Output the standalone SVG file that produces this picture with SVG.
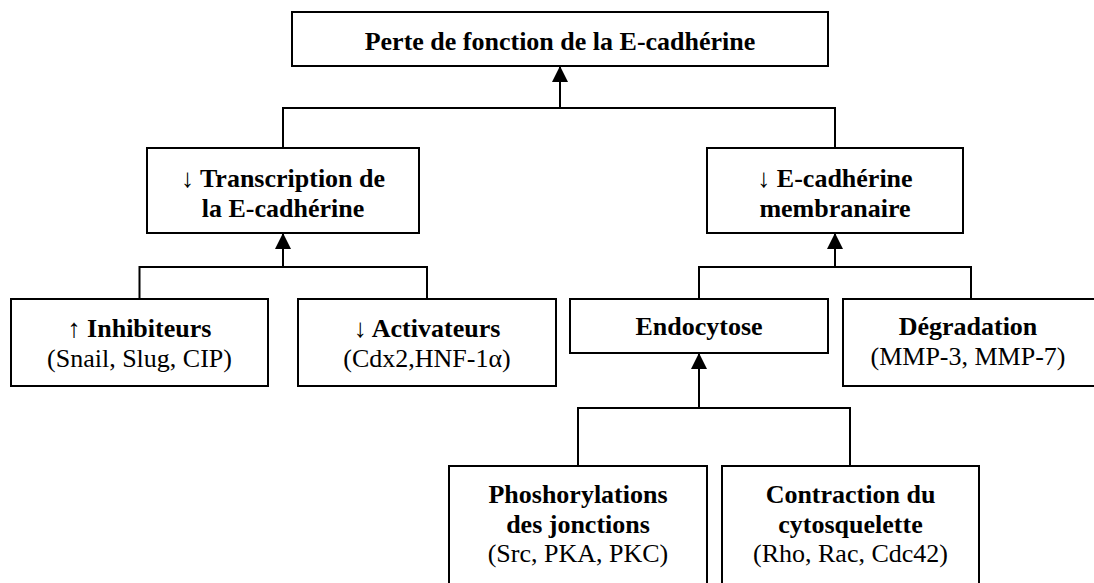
<svg xmlns="http://www.w3.org/2000/svg" width="1094" height="583" viewBox="0 0 1094 583">
<style>
.box{fill:#fff;stroke:#000;stroke-width:2}
.ln{fill:none;stroke:#000;stroke-width:2}
text{font-family:"Liberation Serif","Times New Roman",serif;font-size:26px;fill:#000;text-anchor:middle}
.b{font-weight:bold}
.n{font-weight:normal}
</style>
<defs>
<marker id="arr" viewBox="0 0 16 16" markerWidth="16" markerHeight="16" refX="16" refY="8" orient="auto" markerUnits="userSpaceOnUse">
<path d="M0,0 L16,8 L0,16 z" fill="#000"/>
</marker>
</defs>
<g id="connectors">
<line class="ln" x1="560" y1="108" x2="560" y2="66" marker-end="url(#arr)"/>
<polyline class="ln" points="283,148 283,108 835,108 835,148"/>
<line class="ln" x1="283" y1="267" x2="283" y2="233" marker-end="url(#arr)"/>
<polyline class="ln" points="139.5,299 139.5,267 427,267 427,299"/>
<line class="ln" x1="835" y1="267" x2="835" y2="233" marker-end="url(#arr)"/>
<polyline class="ln" points="699,299 699,267 971,267 971,299"/>
<line class="ln" x1="699" y1="408" x2="699" y2="353" marker-end="url(#arr)"/>
<polyline class="ln" points="578,466 578,408 850,408 850,466"/>
</g>
<g id="n-perte">
<rect class="box" x="292" y="12" width="536" height="54"/>
<text class="b" x="560" y="50">Perte de fonction de la E-cadhérine</text>
</g>
<g id="n-transcription">
<rect class="box" x="147" y="148" width="272" height="85"/>
<text class="b" x="283" y="187"><tspan class="n">↓</tspan> Transcription de</text>
<text class="b" x="283" y="217">la E-cadhérine</text>
</g>
<g id="n-membranaire">
<rect class="box" x="707" y="148" width="256" height="85"/>
<text class="b" x="835" y="187"><tspan class="n">↓</tspan> E-cadhérine</text>
<text class="b" x="835" y="217">membranaire</text>
</g>
<g id="n-inhibiteurs">
<rect class="box" x="11" y="299" width="257" height="87"/>
<text class="b" x="139.5" y="337"><tspan class="n">↑</tspan> Inhibiteurs</text>
<text x="139.5" y="367">(Snail, Slug, CIP)</text>
</g>
<g id="n-activateurs">
<rect class="box" x="298" y="299" width="258" height="87"/>
<text class="b" x="427" y="337"><tspan class="n">↓</tspan> Activateurs</text>
<text x="427" y="367">(Cdx2,HNF-1α)</text>
</g>
<g id="n-endocytose">
<rect class="box" x="570" y="299" width="258" height="54"/>
<text class="b" x="699" y="335">Endocytose</text>
</g>
<g id="n-degradation">
<rect class="box" x="843" y="299" width="260" height="87"/>
<text class="b" x="968" y="335">Dégradation</text>
<text x="968" y="365">(MMP-3, MMP-7)</text>
</g>
<g id="n-phosphorylations">
<rect class="box" x="449" y="466" width="258" height="130"/>
<text class="b" x="578" y="503">Phoshorylations</text>
<text class="b" x="578" y="533">des jonctions</text>
<text x="578" y="562">(Src, PKA, PKC)</text>
</g>
<g id="n-contraction">
<rect class="box" x="722" y="466" width="257" height="130"/>
<text class="b" x="850.5" y="503">Contraction du</text>
<text class="b" x="850.5" y="533">cytosquelette</text>
<text x="850.5" y="562">(Rho, Rac, Cdc42)</text>
</g>
</svg>
